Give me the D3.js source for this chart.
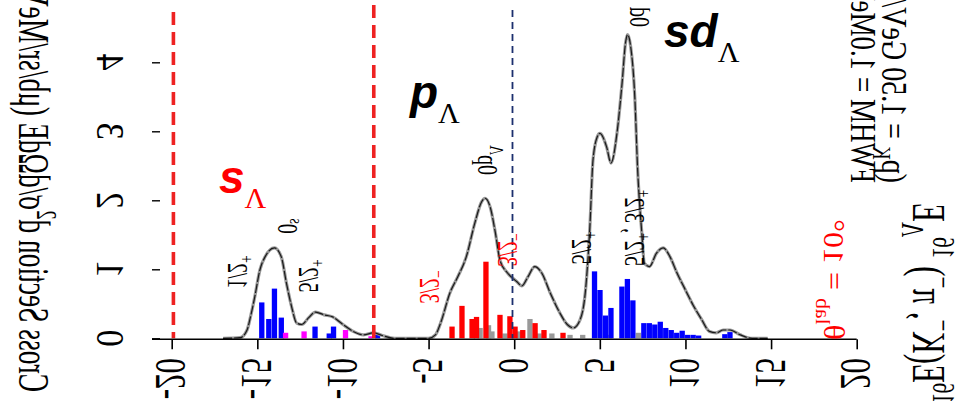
<!DOCTYPE html>
<html><head><meta charset="utf-8">
<script src="https://cdn.jsdelivr.net/npm/d3@7"></script>
<style>html,body{margin:0;padding:0;background:#fff;overflow:hidden}</style>
</head><body>
<svg id="chart" width="955" height="401"></svg>
<script>
// Axis ticks
const energyTicks = [-20, -15, -10, -5, 0, 5, 10, 15, 20];
const sigmaTicks = [0, 1, 2, 3, 4];

// Smeared spectrum (FWHM = 1.0 MeV): excitation energy (MeV) and cross section
const curveE = [-17.0, -16.0, -15.6, -15.4, -15.15, -14.85, -14.55, -14.0, -13.6, -13.3, -13.0, -12.7, -12.4, -12.0, -11.6, -11.1, -10.6, -10.0, -9.4, -8.8, -8.2, -7.7, -7.0,
  -5.0, -4.6, -4.3, -3.75, -3.3, -2.8, -2.3, -1.9, -1.7, -1.4, -1.1, -0.83, -0.4, 0.16, 0.45, 0.8, 1.2, 1.6, 2.1, 2.66, 3.1, 3.45, 3.85, 4.15, 4.42, 4.6, 4.85,
  5.0, 5.4, 5.65, 6.0, 6.3, 6.5, 6.62, 6.8, 7.05, 7.2, 7.45, 7.6, 7.9, 8.3, 8.7, 9.1, 9.5, 10.0, 10.45, 10.95, 11.4, 11.8, 12.2, 12.6, 13.2, 13.9, 14.8];
const curveSigma = [0.0, 0.01, 0.12, 0.31, 0.6, 0.99, 1.18, 1.31, 1.18, 0.8, 0.46, 0.22, 0.2, 0.3, 0.38, 0.34, 0.31, 0.2, 0.1, 0.05, 0.08, 0.04, 0.0,
  0.0, 0.05, 0.22, 0.66, 0.89, 1.18, 1.67, 1.98, 2.03, 1.9, 1.53, 1.13, 0.95, 0.82, 0.76, 0.89, 1.04, 0.95, 0.66, 0.37, 0.2, 0.15, 0.27, 0.66, 1.62, 2.58, 2.92,
  2.97, 2.77, 2.54, 2.97, 3.7, 4.28, 4.4, 4.23, 3.46, 2.49, 1.53, 1.09, 1.04, 1.23, 1.31, 1.18, 0.95, 0.7, 0.48, 0.27, 0.1, 0.08, 0.12, 0.12, 0.05, 0.0, 0.0];

// Individual state strengths (bin centre in MeV, height)
const binWidth = 0.31;
const grayE = [-1.99, -1.5, -1.3, -0.54, 0.28, 0.92, 1.45, 2.2, 3.26, 4.0, 5.55, 7.25];
const grayH = [0.15, 0.19, 0.10, 0.07, 0.10, 0.28, 0.07, 0.07, 0.05, 0.05, 0.05, 0.08];
const redE = [-3.63, -3.05, -2.46, -2.2, -1.65, -0.83, -0.25, 0.05, 0.5, 1.22, 1.74, 2.85];
const redH = [0.17, 0.47, 0.28, 0.31, 1.11, 0.34, 0.32, 0.17, 0.12, 0.22, 0.12, 0.08];
const blueE = [-14.74, -14.33, -14.0, -13.6, -11.63, -10.8, -10.55, -7.98,
  4.69, 5.01, 5.33, 5.65, 6.29, 6.61, 6.93, 7.57, 7.89, 8.21, 8.53, 8.85, 9.17, 9.49, 9.81, 10.13, 10.45, 10.77, 12.3, 12.6];
const blueH = [0.52, 0.28, 0.72, 0.30, 0.17, 0.07, 0.17, 0.05,
  0.97, 0.70, 0.33, 0.44, 0.75, 0.86, 0.55, 0.22, 0.22, 0.20, 0.24, 0.15, 0.12, 0.08, 0.11, 0.05, 0.05, 0.04, 0.06, 0.09];
const magentaE = [-13.35, -12.27, -9.85, -8.36];
const magentaH = [0.08, 0.10, 0.12, 0.03];

// Vertical reference lines (MeV)
const shellEdges = [-19.9, -8.2];
const thresholdE = -0.1;

const svg = d3.select("#chart");
const x = d3.scaleLinear().domain([-20, 20]).range([171.7, 856.7]);
const y = d3.scaleLinear().domain([0, 4]).range([338.3, 62.3]);

// bars
function bars(E, H, color) {
  svg.append("g").selectAll("rect").data(E.map((e, i) => ({e, h: H[i]}))).join("rect")
    .attr("x", d => x(d.e - binWidth / 2))
    .attr("width", d => x(d.e + binWidth / 2) - x(d.e - binWidth / 2))
    .attr("y", d => y(d.h))
    .attr("height", d => y(0) - y(d.h))
    .attr("fill", color);
}
bars(grayE, grayH, "#999999");
bars(redE, redH, "#ff0000");
bars(blueE, blueH, "#0000ff");
bars(magentaE, magentaH, "#ff00ff");

// smeared curve
const pts = curveE.map((e, i) => [e, curveSigma[i]]);
const line = d3.line().x(d => x(d[0])).y(d => y(d[1])).curve(d3.curveMonotoneX);
svg.append("path").attr("d", line(pts)).attr("fill", "none").attr("stroke", "#9a9a9a").attr("stroke-width", 3.2);
svg.append("path").attr("d", line(pts)).attr("fill", "none").attr("stroke", "#1a1a1a").attr("stroke-width", 1.2).attr("stroke-dasharray", "9,2");

// dashed lines
svg.append("g").selectAll("line").data(shellEdges).join("line")
  .attr("x1", d => x(d)).attr("x2", d => x(d))
  .attr("y1", (d, i) => i === 0 ? 12 : 5).attr("y2", y(0))
  .attr("stroke", "#ee2222").attr("stroke-width", 3.6).attr("stroke-dasharray", "13,7");
svg.append("line").attr("x1", x(thresholdE)).attr("x2", x(thresholdE)).attr("y1", 10).attr("y2", y(0))
  .attr("stroke", "#1c2f6e").attr("stroke-width", 1.8).attr("stroke-dasharray", "7,5");

// axes
const xAxis = svg.append("g").attr("transform", `translate(0,${y(0) + 1})`)
  .call(d3.axisBottom(x).tickValues(energyTicks).tickSize(10).tickSizeOuter(0).tickFormat(""));
xAxis.select(".domain").attr("d", `M152,0H${x(20)}`).attr("stroke", "#000").attr("stroke-width", 1.6);
xAxis.selectAll(".tick line").attr("stroke-width", 1.6);
const yAxis = svg.append("g").attr("transform", "translate(152,0)")
  .call(d3.axisRight(y).tickValues(sigmaTicks).tickSize(8).tickFormat(""));
yAxis.select(".domain").remove();
yAxis.selectAll(".tick line").attr("stroke-width", 1.4);

// text set along the vertical direction with mirrored glyphs
function flipText(parts, px, py, o) {
  const t = svg.append("text")
    .attr("transform", `translate(${px},${py}) matrix(0,-1,${-o.k},0,0,0)`)
    .attr("font-family", "Liberation Serif, Times New Roman, serif")
    .attr("font-size", o.size)
    .attr("fill", o.color || "#000")
    .attr("text-anchor", o.anchor || "middle");
  const base = o.center ? 0.34 : 0;
  let shift = 0;
  parts.forEach((p, i) => {
    const [str, kind] = Array.isArray(p) ? p : [p, null];
    const target = (kind === "sup" ? -0.42 : kind === "sub" ? 0.25 : 0) + base;
    t.append("tspan").text(str)
      .attr("font-size", kind ? o.size * 0.68 : o.size)
      .attr("dy", ((target - (i === 0 ? 0 : shift)) * o.size) + "px");
    shift = target;
  });
  return t;
}

energyTicks.forEach(v => flipText([String(v)], x(v), 358, {size: 31, k: 1.45, anchor: "end", center: true}));
sigmaTicks.forEach(v => flipText([String(v)], 110, y(v), {size: 34, k: 1.15, anchor: "middle", center: true}));

flipText(["Cross Section d", ["2", "sup"], "σ/dΩdE (μb/sr/MeV)"], 19, 392, {size: 27.5, k: 1.6, anchor: "start"});
flipText(["FWHM = 1.0MeV"], 863, 183, {size: 27, k: 1.3, anchor: "start", center: true});
flipText(["(p", ["K", "sub"], " = 1.50 GeV/c)"], 894, 183, {size: 28, k: 1.3, anchor: "start", center: true});
flipText([["16", "sup"], "E(K", ["−", "sup"], ", π", ["−", "sup"], ") ", ["16", "sup"], ["Λ", "sub"], "E"], 929, 404, {size: 31, k: 1.5, anchor: "start", center: true});
flipText(["θ", ["lab", "sub"], " = 10°"], 834, 340, {size: 32, k: 0.95, anchor: "start", center: true, color: "#ff0000"});

// state labels
const lab = {size: 20, k: 1.45, anchor: "middle", center: true};
flipText(["1/2", ["+", "sup"]], 238, 272, lab);
flipText(["0", ["s", "sup"]], 288, 226, lab);
flipText(["5/2", ["+", "sup"]], 309, 276, lab);
flipText(["3/2", ["−", "sup"]], 430, 287, Object.assign({}, lab, {color: "#ff0000"}));
flipText(["0p", ["Λ", "sup"]], 488, 160, lab);
flipText(["3/2", ["−", "sup"]], 508, 250, Object.assign({}, lab, {color: "#ff0000"}));
flipText(["5/2", ["+", "sup"]], 582, 248, lab);
flipText(["5/2", ["+", "sup"], ", 3/2", ["+", "sup"]], 635, 228, lab);
flipText(["0d"], 640, 17, lab);

// shell annotations
function shellLabel(main, px, py, color) {
  const t = svg.append("text").attr("x", px).attr("y", py).attr("fill", color);
  t.append("tspan").text(main)
    .attr("font-family", "Liberation Sans, Arial, sans-serif").attr("font-weight", "bold")
    .attr("font-style", "italic").attr("font-size", 46);
  t.append("tspan").text("Λ").attr("dy", 15)
    .attr("font-family", "Liberation Serif, Times New Roman, serif").attr("font-size", 30);
}
shellLabel("s", 219, 193, "#ff0000");
shellLabel("p", 410, 108, "#000");
shellLabel("sd", 664, 47, "#000");
</script>
</body></html>
